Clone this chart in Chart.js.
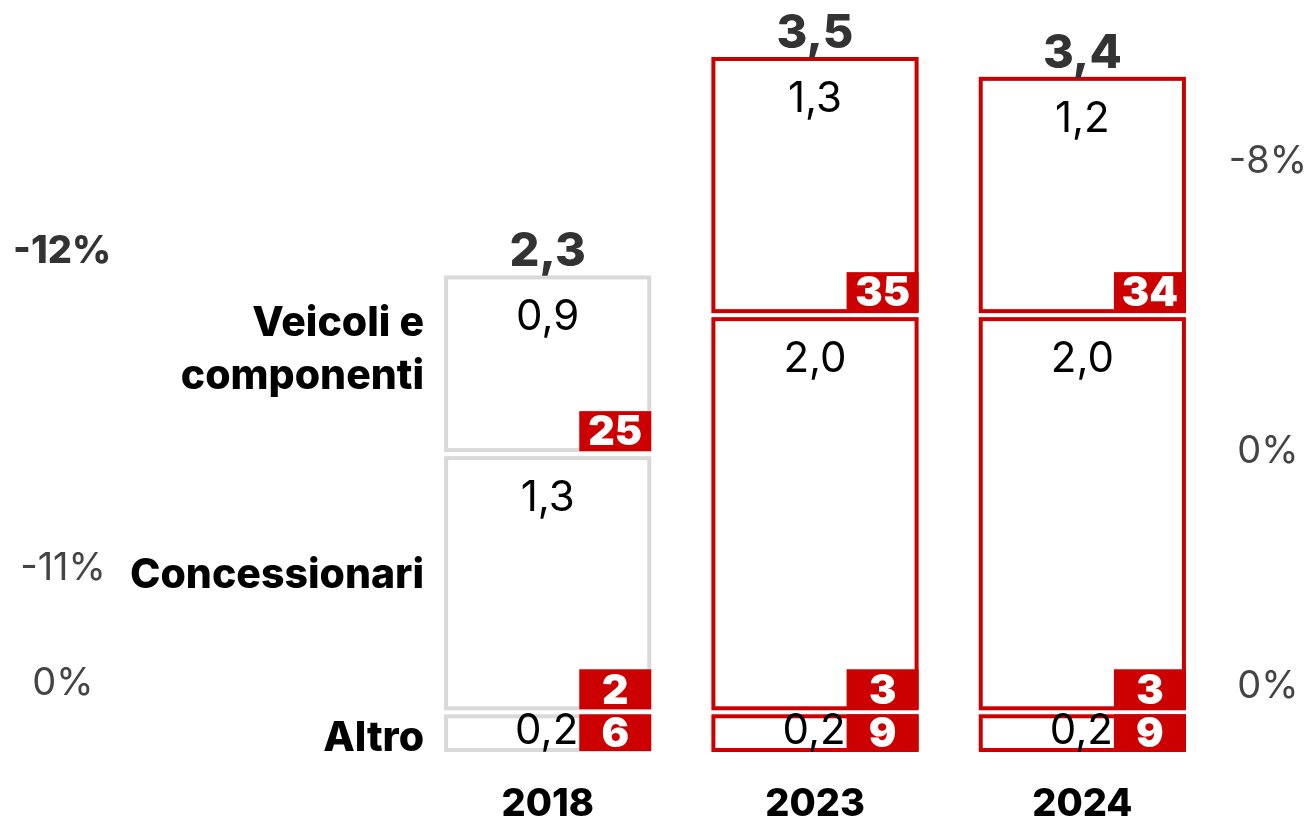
<!DOCTYPE html>
<html>
<head>
<meta charset="utf-8">
<script src="https://cdn.jsdelivr.net/npm/chart.js@4.4.1/dist/chart.umd.min.js"></script>
<style>
  html, body { margin: 0; padding: 0; background: #ffffff; }
  #wrap { width: 1307px; height: 820px; position: relative; }
</style>
</head>
<body>
<div id="wrap"><canvas id="c" width="1307" height="820"></canvas></div>
<script>
// ---- data ----
const years = ['2018', '2023', '2024'];
const seriesNames = ['Altro', 'Concessionari', 'Veicoli e componenti'];
const altro = [0.2, 0.2, 0.2];
const concessionari = [1.3, 2.0, 2.0];
const veicoli = [0.9, 1.3, 1.2];
const totals = [2.3, 3.5, 3.4];
const badgeAltro = [6, 9, 9];
const badgeConcessionari = [2, 3, 3];
const badgeVeicoli = [25, 35, 34];
const leftChanges = ['-12%', '-11%', '0%'];
const rightChanges = ['-8%', '0%', '0%'];

const RED = '#cc0000';
const GREY = '#d9d9d9';
const FONT = 'Inter, "Noto Sans", sans-serif';
const fmt = v => v.toFixed(1).replace('.', ',');

const badges = [badgeAltro, badgeConcessionari, badgeVeicoli];
const frameColors = [GREY, RED, RED];

const segPlugin = {
  id: 'segments',
  afterDatasetsDraw(chart) {
    const ctx = chart.ctx;
    const nSets = chart.data.datasets.length;
    const lw = 4;
    const gap = 2;
    ctx.save();
    const segCenters2018 = [];
    for (let i = 0; i < nSets; i++) {
      const meta = chart.getDatasetMeta(i);
      meta.data.forEach((el, j) => {
        const p = el.getProps(['x', 'y', 'base', 'width'], true);
        const left = p.x - p.width / 2;
        const right = p.x + p.width / 2;
        const top = p.y + (i < nSets - 1 ? gap : 0);
        const bottom = p.base - (i > 0 ? gap : 0);
        if (j === 0) segCenters2018.push((top + bottom) / 2);
        // frame
        ctx.strokeStyle = frameColors[j];
        ctx.lineWidth = lw;
        ctx.strokeRect(left + lw / 2, top + lw / 2, p.width - lw, bottom - top - lw);
        // badge
        const bw = 72;
        const bh = Math.min(40, bottom - top - 1);
        const bx = right - bw;
        const by = bottom - 1 - bh;
        ctx.fillStyle = RED;
        ctx.fillRect(bx, by, bw, bh);
        ctx.fillStyle = '#ffffff';
        ctx.font = '900 41px ' + FONT;
        ctx.textAlign = 'center';
        ctx.textBaseline = 'middle';
        ctx.fillText(String(badges[i][j]), bx + bw / 2, by + bh / 2 + 2);
        // value label
        const v = chart.data.datasets[i].data[j];
        ctx.fillStyle = '#000000';
        ctx.font = '400 42px ' + FONT;
        ctx.textBaseline = 'alphabetic';
        if (i === 0) {
          ctx.textAlign = 'right';
          ctx.fillText(fmt(v), bx - 1, bottom - 8);
        } else {
          ctx.textAlign = 'center';
          ctx.fillText(fmt(v), p.x, top + 55);
        }
        // total
        if (i === nSets - 1) {
          ctx.fillStyle = '#333333';
          ctx.font = '800 47px ' + FONT;
          ctx.textAlign = 'center';
          ctx.fillText(fmt(totals[j]), p.x, top - 9);
        }
      });
    }
    // category labels left of the 2018 bar
    const meta0 = chart.getDatasetMeta(0).data[0];
    const barLeft = meta0.x - meta0.width / 2;
    ctx.fillStyle = '#000000';
    ctx.font = '800 41px ' + FONT;
    ctx.textAlign = 'right';
    ctx.textBaseline = 'middle';
    const lx = barLeft - 20;
    ctx.fillText('Altro', lx, segCenters2018[0] + 6);
    ctx.fillText('Concessionari', lx, segCenters2018[1] - 8);
    ctx.fillText('Veicoli e', lx, segCenters2018[2] - 40);
    ctx.fillText('componenti', lx, segCenters2018[2] + 13);
    // change percentages
    const ca = chart.chartArea;
    ctx.textAlign = 'center';
    ctx.fillStyle = '#333333';
    ctx.font = '800 38px ' + FONT;
    ctx.fillText(leftChanges[0], 62, ca.top + 195);
    ctx.fillStyle = '#444444';
    ctx.font = '400 38px ' + FONT;
    ctx.fillText(leftChanges[1], 63, ca.top + 512);
    ctx.fillText(leftChanges[2], 63, ca.top + 627);
    ctx.fillText(rightChanges[0], 1268, ca.top + 105);
    ctx.fillText(rightChanges[1], 1268, ca.top + 395);
    ctx.fillText(rightChanges[2], 1268, ca.top + 630);
    ctx.restore();
  }
};

new Chart(document.getElementById('c'), {
  type: 'bar',
  data: {
    labels: years,
    datasets: [
      { label: seriesNames[0], data: altro },
      { label: seriesNames[1], data: concessionari },
      { label: seriesNames[2], data: veicoli }
    ].map(d => Object.assign(d, {
      backgroundColor: 'rgba(0,0,0,0)',
      borderWidth: 0,
      categoryPercentage: 1,
      barPercentage: 0.775
    }))
  },
  options: {
    responsive: false,
    animation: false,
    events: [],
    layout: { padding: { left: 414, right: 91, top: 57, bottom: 0 } },
    plugins: { legend: { display: false }, tooltip: { enabled: false } },
    scales: {
      x: {
        stacked: true,
        grid: { display: false, drawTicks: false },
        border: { display: false },
        afterFit(scale) { scale.height = 68; },
        ticks: { color: '#000000', padding: 30, font: { family: FONT, size: 38, weight: '800', lineHeight: 1.2 } }
      },
      y: {
        stacked: true,
        display: false,
        min: 0,
        max: 3.5
      }
    }
  },
  plugins: [segPlugin]
});
</script>
</body>
</html>
